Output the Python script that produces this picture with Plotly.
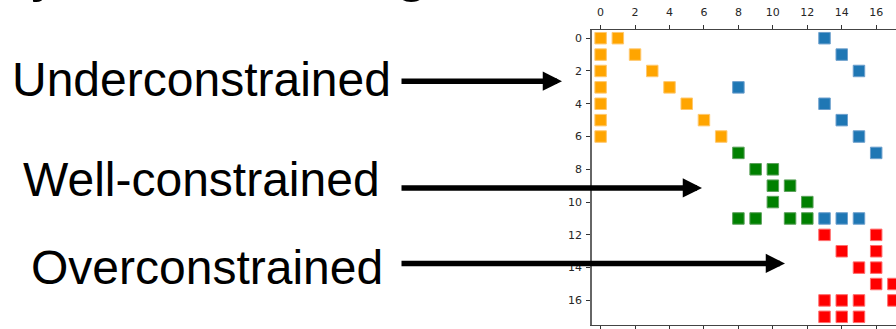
import plotly.graph_objects as go

# ---------------- data (row, column of each non-zero entry) ----------------
orange_rows = [0, 0, 1, 1, 2, 2, 3, 3, 4, 4, 5, 5, 6, 6]
orange_cols = [0, 1, 0, 2, 0, 3, 0, 4, 0, 5, 0, 6, 0, 7]

blue_rows = [0, 1, 2, 3, 4, 5, 6, 7, 11, 11, 11]
blue_cols = [13, 14, 15, 8, 13, 14, 15, 16, 13, 14, 15]

green_rows = [7, 8, 8, 9, 9, 10, 10, 11, 11, 11, 11]
green_cols = [8, 9, 10, 10, 11, 10, 12, 8, 9, 11, 12]

red_rows = [12, 12, 13, 13, 14, 14, 15, 15, 16, 16, 16, 16, 17, 17, 17]
red_cols = [13, 16, 14, 16, 15, 16, 16, 17, 13, 14, 15, 17, 13, 14, 15]

tick_vals = [0, 2, 4, 6, 8, 10, 12, 14, 16]
labels = ["Underconstrained", "Well-constrained", "Overconstrained"]

# ---------------- layout geometry ----------------
W, H = 896, 329
L, R, T, B = 592, 896, 30, 327


def px(x):
    return (x - L) / (R - L)


def py(y):
    return (B - y) / (B - T)


fig = go.Figure()

series = [
    (orange_rows, orange_cols, "#FFA500", "rgba(255,200,110,1)"),
    (blue_rows, blue_cols, "#1F77B4", "rgba(110,160,205,1)"),
    (green_rows, green_cols, "#008000", "rgba(90,160,90,1)"),
    (red_rows, red_cols, "#FF0000", "rgba(255,110,110,1)"),
]
for rows, cols, col, edge in series:
    fig.add_trace(go.Scatter(
        x=cols, y=rows, mode="markers",
        marker=dict(symbol="square", size=11.5, color=col,
                    line=dict(width=1, color=edge)),
        hoverinfo="skip", showlegend=False,
    ))

# empty trace for the bottom (tick-only) axis
fig.add_trace(go.Scatter(x=[], y=[], xaxis="x2", showlegend=False))

axis_font = dict(family="DejaVu Sans", size=11, color="#262626")

fig.update_layout(
    width=W, height=H,
    margin=dict(l=L, r=W - R, t=T, b=H - B, pad=0),
    paper_bgcolor="white", plot_bgcolor="white",
    xaxis=dict(
        side="top", range=[-0.5, 17.15], tickvals=tick_vals,
        ticks="outside", ticklen=4, tickwidth=1, tickcolor="#333",
        showline=True, linecolor="#444", linewidth=1.2,
        showgrid=False, zeroline=False, tickfont=axis_font,
        ticklabelstandoff=5,
    ),
    xaxis2=dict(
        overlaying="x", side="bottom", anchor="y", range=[-0.5, 17.15],
        tickvals=tick_vals, ticks="outside", ticklen=4, tickwidth=1,
        tickcolor="#333", showticklabels=False,
        showline=True, linecolor="#444", linewidth=1.2,
        showgrid=False, zeroline=False,
    ),
    yaxis=dict(
        range=[17.5, -0.5], tickvals=tick_vals,
        ticks="outside", ticklen=4, tickwidth=1, tickcolor="#333",
        showline=True, linecolor="#666", linewidth=1.5,
        showgrid=False, zeroline=False, tickfont=axis_font,
        ticklabelstandoff=2,
    ),
)

text_font = dict(family="Liberation Sans, Arial, sans-serif", size=48, color="black")

# left-hand labels (box left edge, text vertical centre in pixels)
label_pos = [(9.5, 79.4), (20.5, 180.4), (28.5, 269)]
for txt, (lx, cy) in zip(labels, label_pos):
    fig.add_annotation(
        text=txt, xref="paper", yref="paper", x=px(lx), y=py(cy),
        xanchor="left", yanchor="middle", showarrow=False, font=text_font,
    )

# arrows: (start x, tip x, y) in pixels
arrows = [(400, 562, 81.5), (400, 702, 189), (400, 785, 265)]
for sx, tx, ay in arrows:
    fig.add_annotation(
        text="", xref="paper", yref="paper", x=px(tx), y=py(ay),
        ax=sx - tx, ay=0, axref="pixel", ayref="pixel",
        showarrow=True, arrowhead=2, arrowsize=0.7, arrowwidth=5.5,
        arrowcolor="black", standoff=0,
    )

# descenders of the cut-off title above the figure
title_font = dict(family="Liberation Sans, Arial, sans-serif", size=60, color="black")
for ch, cx in [("y", 46), ("g", 411)]:
    fig.add_annotation(
        text=ch, xref="paper", yref="paper", x=px(cx), y=py(-31),
        xanchor="center", yanchor="middle", showarrow=False, font=title_font,
    )

fig.write_html(
    "out.html",
    config={"displayModeBar": False},
    post_script="document.body.style.margin='0';document.body.style.overflow='hidden';",
)
